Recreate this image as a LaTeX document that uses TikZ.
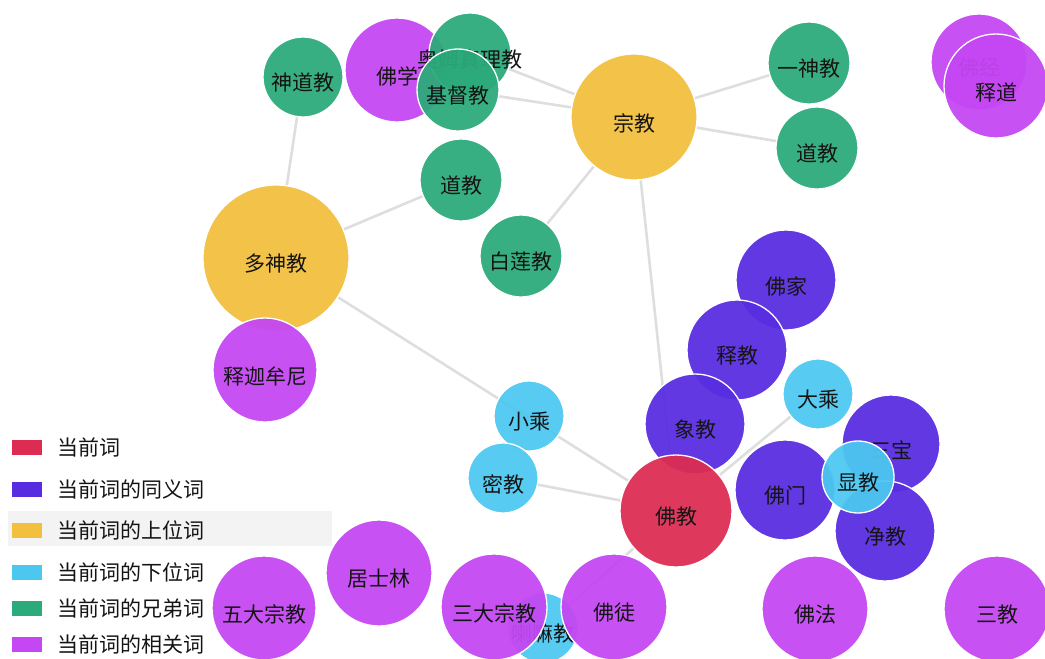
\documentclass[tikz,border=0pt]{standalone}
\usepackage{fontspec}
\setmainfont{Noto Sans CJK SC}
\usetikzlibrary{backgrounds}
\definecolor{cred}{RGB}{220,44,82}
\definecolor{cpur}{RGB}{88,44,224}
\definecolor{cyel}{RGB}{242,191,62}
\definecolor{ccya}{RGB}{76,200,240}
\definecolor{cgrn}{RGB}{43,170,123}
\definecolor{cmag}{RGB}{197,70,243}
\definecolor{cedge}{RGB}{222,222,222}
\definecolor{ctxt}{RGB}{20,20,20}
\definecolor{chl}{RGB}{243,243,243}
\tikzset{
  bub/.style={circle,draw=white,line width=1.3pt,inner sep=0pt,fill opacity=0.94},
  lbl/.style={inner sep=0pt,text=ctxt,font=\fontsize{21}{21}\selectfont},
  edge/.style={draw=cedge,line width=2.6pt},
  legbox/.style={minimum width=30pt,minimum height=15pt,inner sep=0pt},
  legtxt/.style={anchor=west,inner sep=0pt,text=ctxt,font=\fontsize{21}{21}\selectfont}
}
\newcommand\bubb[6]{\node[bub,fill=#5,minimum size={2*#4 pt}] (#1) at (#2,#3) {};
  \node[lbl] (#1t) at (#2,#3+6) {#6};}
\begin{document}
\begin{tikzpicture}[x=1pt,y=-1pt]
\useasboundingbox (0,0) rectangle (1045,659);
% legend highlight
\fill[chl] (8,511) rectangle (332,546);
% nodes
\bubb{shendao}{303}{77}{40}{cgrn}{神道教}
\bubb{foxue}{397}{70}{52}{cmag}{佛学}
\bubb{aum}{470}{54}{41}{cgrn}{奥姆真理教}
\bubb{jidu}{458}{90}{41}{cgrn}{基督教}
\bubb{zongjiao}{634}{117}{63}{cyel}{宗教}
\bubb{yishen}{809}{63}{41}{cgrn}{一神教}
\bubb{daoR}{817}{148}{41}{cgrn}{道教}
\bubb{fojing}{979}{62}{48}{cmag}{佛经}
\bubb{shidao}{996}{86}{52}{cmag}{释道}
\bubb{daoL}{461}{180}{41}{cgrn}{道教}
\bubb{duoshen}{276}{258}{73}{cyel}{多神教}
\bubb{bailian}{521}{256}{41}{cgrn}{白莲教}
\bubb{shijia}{265}{370}{52}{cmag}{释迦牟尼}
\bubb{fojia}{786}{280}{50}{cpur}{佛家}
\bubb{shijiao}{737}{350}{50}{cpur}{释教}
\bubb{xiaocheng}{529}{416}{35}{ccya}{小乘}
\bubb{mijiao}{503}{478}{35}{ccya}{密教}
\bubb{dacheng}{818}{394}{35}{ccya}{大乘}
\bubb{sanbao}{891}{444}{49}{cpur}{三宝}
\bubb{jingjiao}{885}{531}{50}{cpur}{净教}
\bubb{fomen}{785}{490}{50}{cpur}{佛门}
\bubb{xiangjiao}{695}{424}{50}{cpur}{象教}
\bubb{fojiao}{676}{511}{56}{cred}{佛教}
\bubb{xianjiao}{858}{477}{36}{ccya}{显教}
\bubb{jushi}{379}{573}{53}{cmag}{居士林}
\bubb{wuda}{264}{608}{52}{cmag}{五大宗教}
\bubb{lama}{543}{628}{35}{ccya}{喇嘛教}
\bubb{sanda}{494}{607}{53}{cmag}{三大宗教}
\bubb{fotu}{614}{607}{53}{cmag}{佛徒}
\bubb{fofa}{815}{609}{53}{cmag}{佛法}
\bubb{sanjiao}{997}{609}{53}{cmag}{三教}
% edges
\begin{pgfonlayer}{background}
\draw[edge] (shendao) -- (duoshen);
\draw[edge] (duoshen) -- (daoL);
\draw[edge] (duoshen) -- (fojiao);
\draw[edge] (mijiao) -- (fojiao);
\draw[edge] (lama) -- (fojiao);
\draw[edge] (dacheng) -- (fojiao);
\draw[edge] (zongjiao) -- (fojiao);
\draw[edge] (zongjiao) -- (bailian);
\draw[edge] (zongjiao) -- (jidu);
\draw[edge] (zongjiao) -- (aum);
\draw[edge] (zongjiao) -- (yishen);
\draw[edge] (zongjiao) -- (daoR);
\end{pgfonlayer}
% legend
\node[legbox,fill=cred] (l1) at (27,447) {};
\node[legtxt] (l1t) at (57,447) {当前词};
\node[legbox,fill=cpur] (l2) at (27,489) {};
\node[legtxt] (l2t) at (57,489) {当前词的同义词};
\node[legbox,fill=cyel] (l3) at (27,530) {};
\node[legtxt] (l3t) at (57,530) {当前词的上位词};
\node[legbox,fill=ccya] (l4) at (27,572) {};
\node[legtxt] (l4t) at (57,572) {当前词的下位词};
\node[legbox,fill=cgrn] (l5) at (27,608) {};
\node[legtxt] (l5t) at (57,608) {当前词的兄弟词};
\node[legbox,fill=cmag] (l6) at (27,644) {};
\node[legtxt] (l6t) at (57,644) {当前词的相关词};
\end{tikzpicture}
\end{document}
